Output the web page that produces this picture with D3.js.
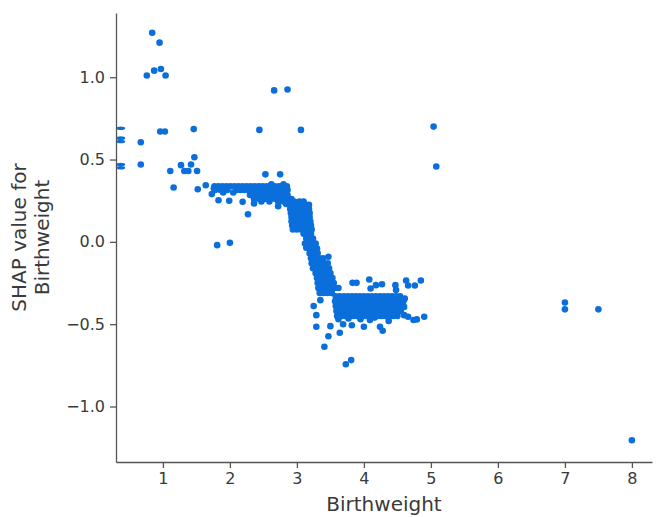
<!DOCTYPE html>
<html>
<head>
<meta charset="utf-8">
<title>SHAP dependence - Birthweight</title>
<style>
body { margin: 0; background: #fff; }
#plot { display: block; }
#plot text { font-family: 'DejaVu Sans', sans-serif; fill: #3a3a3a; }
#plot .axis path, #plot .axis line { stroke: #555; stroke-width: 1.3; }
#plot .dot { fill: #0a6fdb; }
</style>
</head>
<body>
<svg id='plot' width='656' height='517'></svg>
<script src='https://cdn.jsdelivr.net/npm/d3@7/dist/d3.min.js'></script>
<script>
// values: [birthweight, SHAP value]
const earlyPoints = [
  [0.84, 1.27], [0.95, 1.21], [0.76, 1.01], [0.87, 1.04], [0.97, 1.05], [1.04, 1.01],
  [0.96, 0.67], [1.03, 0.67], [1.46, 0.685], [0.67, 0.605], [0.67, 0.47], [1.47, 0.514],
  [1.27, 0.466], [1.42, 0.47], [1.32, 0.43], [1.38, 0.43], [1.11, 0.43], [1.51, 0.43],
  [1.16, 0.33], [1.52, 0.32], [1.64, 0.344]
];

const midPoints = [
  [2.44, 0.68], [3.06, 0.68], [2.66, 0.92], [2.86, 0.925], [2.53, 0.41], [2.75, 0.41],
  [1.81, -0.02], [2.00, -0.006], [1.83, 0.253], [1.99, 0.25], [2.19, 0.243], [2.27, 0.168],
  [1.73, 0.29], [1.90, 0.30], [2.05, 0.30], [2.36, 0.233], [2.72, 0.217],
  [1.76, 0.325], [2.62, 0.35], [2.80, 0.35], [2.86, 0.27], [2.84, 0.23]
];

const lowPoints = [
  // above the cluster
  [3.83, -0.249], [3.89, -0.249], [4.08, -0.229], [4.10, -0.283], [4.18, -0.263], [4.27, -0.257],
  [4.47, -0.263], [4.48, -0.293], [4.63, -0.235], [4.66, -0.265], [4.76, -0.265], [4.85, -0.235],
  // right tail
  [4.61, -0.344], [4.60, -0.395], [4.60, -0.445], [4.66, -0.455], [4.74, -0.475], [4.79, -0.471],
  [4.90, -0.455],
  // below the cluster
  [3.25, -0.39], [3.29, -0.445], [3.29, -0.516], [3.35, -0.354], [3.50, -0.512], [3.47, -0.573],
  [3.41, -0.637], [3.69, -0.50], [3.64, -0.552], [3.82, -0.506], [4.00, -0.516], [3.73, -0.743],
  [3.81, -0.718], [4.24, -0.516], [4.28, -0.54], [4.37, -0.48], [4.09, -0.475],
  [3.62, -0.47], [3.77, -0.465], [3.95, -0.47], [4.16, -0.46], [3.47, -0.09], [3.14, -0.035]
];

const farPoints = [
  [5.04, 0.70], [5.08, 0.458], [7.0, -0.368], [7.0, -0.41], [7.5, -0.41], [8.0, -1.205]
];

// points sitting on the left edge of the axes
const edgePoints = [
  [0.37, 0.69], [0.37, 0.63], [0.37, 0.61], [0.37, 0.47], [0.37, 0.45]
];

// dense parts read row by row: [SHAP value, birthweights]
const bandRows = [
  [0.338, [1.77, 1.83, 1.89, 1.95, 2.01, 2.07, 2.13, 2.19, 2.25, 2.31, 2.37, 2.43, 2.49, 2.55, 2.61, 2.67, 2.73, 2.79, 2.85]],
  [0.315, [1.78, 1.86, 1.96, 2.10, 2.16, 2.22, 2.28, 2.34, 2.40, 2.46, 2.52, 2.58, 2.64, 2.70, 2.76, 2.82, 2.86]],
  [0.285, [2.30, 2.38, 2.46, 2.54, 2.62, 2.70, 2.78, 2.86]],
  [0.26, [2.36, 2.44, 2.52, 2.60, 2.68, 2.76, 2.84, 2.92]],
  [0.245, [2.47, 2.59, 2.72, 2.80, 2.88, 2.96, 3.04, 3.10]],
  [0.225, [2.89, 2.95, 3.01, 3.07, 3.13, 3.18]],
  [0.20, [2.90, 2.96, 3.02, 3.08, 3.14, 3.18]],
  [0.175, [2.91, 2.97, 3.03, 3.09, 3.15, 3.19]],
  [0.15, [2.92, 2.98, 3.04, 3.10, 3.16, 3.19]],
  [0.125, [2.92, 2.98, 3.04, 3.10, 3.16, 3.20]],
  [0.10, [2.93, 2.99, 3.05, 3.11, 3.17, 3.21]],
  [0.075, [2.94, 3.00, 3.06, 3.12, 3.18, 3.22]],
  [0.05, [3.10, 3.16, 3.21]],
  [0.02, [3.14, 3.19, 3.24]],
  [-0.01, [3.12, 3.18, 3.24, 3.28]],
  [-0.04, [3.18, 3.24, 3.30]],
  [-0.07, [3.19, 3.25, 3.31]],
  [-0.10, [3.21, 3.27, 3.33, 3.39]],
  [-0.13, [3.22, 3.28, 3.34, 3.40, 3.46]],
  [-0.16, [3.24, 3.30, 3.36, 3.42, 3.48]],
  [-0.19, [3.28, 3.34, 3.40, 3.46, 3.50]],
  [-0.22, [3.30, 3.36, 3.42, 3.48, 3.53]],
  [-0.25, [3.31, 3.37, 3.43, 3.49, 3.55]],
  [-0.28, [3.32, 3.38, 3.44, 3.50, 3.56, 3.62]],
  [-0.31, [3.34, 3.40, 3.46, 3.52]],
  [-0.33, [3.58, 3.64, 3.70, 3.76, 3.82, 3.88, 3.94, 4.00, 4.06, 4.12, 4.18, 4.24, 4.30, 4.36, 4.42, 4.48, 4.54]],
  [-0.36, [3.57, 3.63, 3.69, 3.75, 3.81, 3.87, 3.93, 3.99, 4.05, 4.11, 4.17, 4.23, 4.29, 4.35, 4.41, 4.47, 4.53, 4.59]],
  [-0.39, [3.58, 3.64, 3.70, 3.76, 3.82, 3.88, 3.94, 4.00, 4.06, 4.12, 4.18, 4.24, 4.30, 4.36, 4.42, 4.48, 4.54, 4.58]],
  [-0.42, [3.59, 3.65, 3.71, 3.77, 3.83, 3.89, 3.95, 4.01, 4.07, 4.13, 4.19, 4.25, 4.31, 4.37, 4.43, 4.49, 4.55]],
  [-0.45, [3.60, 3.66, 3.72, 3.78, 3.84, 3.90, 3.96, 4.02, 4.08, 4.14, 4.20, 4.26, 4.32, 4.38, 4.44, 4.50]]
];

const xTicks = [1, 2, 3, 4, 5, 6, 7, 8];
const yTicks = [-1.0, -0.5, 0.0, 0.5, 1.0];
const xLabel = 'Birthweight';
const yLabel = ['SHAP value for', 'Birthweight'];

const margin = {top: 13, right: 4, bottom: 55, left: 116};
const W = 656, H = 517;
const innerW = W - margin.left - margin.right;
const innerH = H - margin.top - margin.bottom;

const svg = d3.select('#plot');
const g = svg.append('g').attr('transform', `translate(${margin.left},${margin.top})`);

const x = d3.scaleLinear().domain([0.3, 8.3]).range([0, innerW]);
const y = d3.scaleLinear().domain([-1.337, 1.39]).range([innerH, 0]);

// flatten band rows into points
let points = earlyPoints.concat(midPoints, lowPoints, farPoints);
bandRows.forEach(function(row) {
  row[1].forEach(function(bw) { points.push([bw, row[0]]); });
});

g.selectAll('ellipse.edge')
  .data(edgePoints)
  .enter().append('ellipse')
  .attr('class', 'dot edge')
  .attr('cx', d => x(d[0]))
  .attr('cy', d => y(d[1]))
  .attr('rx', 4.5)
  .attr('ry', 1.8);

g.selectAll('circle.dot')
  .data(points)
  .enter().append('circle')
  .attr('class', 'dot')
  .attr('cx', d => x(d[0]))
  .attr('cy', d => y(d[1]))
  .attr('r', 3.3);

const xAxis = g.append('g')
  .attr('class', 'axis')
  .attr('transform', `translate(0,${innerH})`)
  .call(d3.axisBottom(x).tickValues(xTicks).tickFormat(d3.format('d')).tickSize(6).tickSizeOuter(0).tickPadding(5));

const yAxis = g.append('g')
  .attr('class', 'axis')
  .call(d3.axisLeft(y).tickValues(yTicks).tickFormat(d3.format('.1f')).tickSize(6).tickSizeOuter(0).tickPadding(5));

svg.selectAll('.axis text').style('font-size', '16px');

svg.append('text')
  .attr('x', margin.left + innerW / 2)
  .attr('y', 511)
  .attr('text-anchor', 'middle')
  .style('font-size', '20px')
  .text(xLabel);

yLabel.forEach(function(line, i) {
  svg.append('text')
    .attr('transform', `translate(${26 + i * 23},${margin.top + innerH / 2}) rotate(-90)`)
    .attr('text-anchor', 'middle')
    .style('font-size', '20px')
    .text(line);
});
</script>
</body>
</html>
